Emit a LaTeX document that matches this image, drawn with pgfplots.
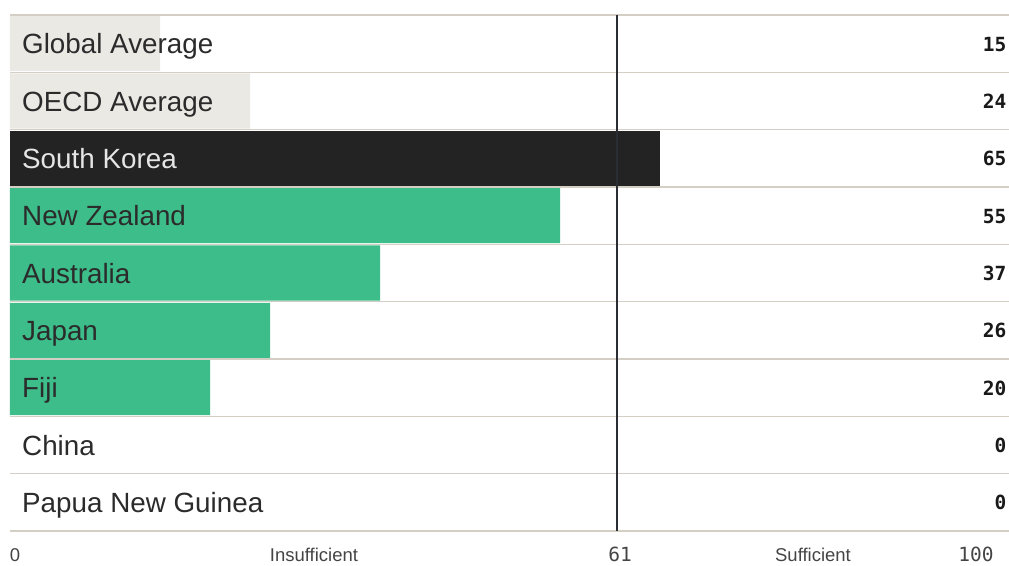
\documentclass[border=0pt]{standalone}
\usepackage{fontspec}
\setmainfont{Liberation Sans}
\newfontfamily\mono{DejaVu Sans Mono}
\usepackage{pgfplots}
\pgfplotsset{compat=1.18}

\definecolor{rowline}{HTML}{D3CFC5}
\definecolor{avggray}{HTML}{EBE9E4}
\definecolor{korea}{HTML}{232323}
\definecolor{pacgreen}{HTML}{3DBD8A}
\definecolor{refline}{HTML}{2A2D33}
\definecolor{labeltxt}{HTML}{2B2B2B}
\definecolor{axistxt}{HTML}{444444}

\begin{document}
\begin{tikzpicture}
\useasboundingbox (0,0) rectangle (1009pt,565pt);
\begin{axis}[
  at={(10pt,34pt)}, anchor=south west,
  scale only axis,
  width=1000pt, height=516pt,
  xmin=0, xmax=100,
  ymin=-0.5, ymax=8.5,
  y dir=reverse,
  axis line style={draw=none},
  major tick length=0pt,
  ytick={-0.5,0.5,...,8.5},
  yticklabels=\empty,
  ymajorgrids,
  major grid style={rowline, line width=1.3pt},
  xtick={0.5,30.4,61,80.3,96.6},
  xticklabels={0,Insufficient,{\mono\fontsize{19.5}{22}\selectfont 61},Sufficient,{\mono\fontsize{19.5}{22}\selectfont 100}},
  xticklabel style={anchor=base, yshift=-30pt, text=axistxt,
    font=\fontsize{18.5}{22}\selectfont},
  clip=false,
  bars/.style={xbar, bar shift=0pt, bar width=0.96, draw=none},
]
% bars: row index counts from the top (China and Papua New Guinea score 0)
\addplot[bars, fill=avggray] coordinates {(15,0) (24,1)};
\addplot[bars, fill=korea] coordinates {(65,2)};
\addplot[bars, fill=pacgreen] coordinates {(55,3) (37,4) (26,5) (20,6)};
% threshold line at 61
\addplot[refline, line width=2pt, mark=none] coordinates {(60.7,-0.5) (60.7,8.5)};
% row names
\addplot[draw=none, mark=none, point meta=explicit symbolic,
  nodes near coords,
  every node near coord/.append style={anchor=base west, xshift=12pt,
    yshift=-10pt, inner sep=0pt, text=labeltxt,
    font=\fontsize{27.8}{30}\selectfont}]
  coordinates {
  (0,0) [Global Average]
  (0,1) [OECD Average]
  (0,2) [\textcolor{white!90!black}{South Korea}]
  (0,3) [New Zealand]
  (0,4) [Australia]
  (0,5) [Japan]
  (0,6) [Fiji]
  (0,7) [China]
  (0,8) [Papua New Guinea]
  };
% scores at the right edge
\addplot[draw=none, mark=none, point meta=explicit symbolic,
  nodes near coords,
  every node near coord/.append style={anchor=base east, xshift=-3.5pt,
    yshift=-7.5pt, inner sep=0pt, text=black!90,
    font=\mono\bfseries\fontsize{19.5}{22}\selectfont}]
  coordinates {
  (100,0) [15]
  (100,1) [24]
  (100,2) [65]
  (100,3) [55]
  (100,4) [37]
  (100,5) [26]
  (100,6) [20]
  (100,7) [0]
  (100,8) [0]
  };
\end{axis}
\end{tikzpicture}
\end{document}
